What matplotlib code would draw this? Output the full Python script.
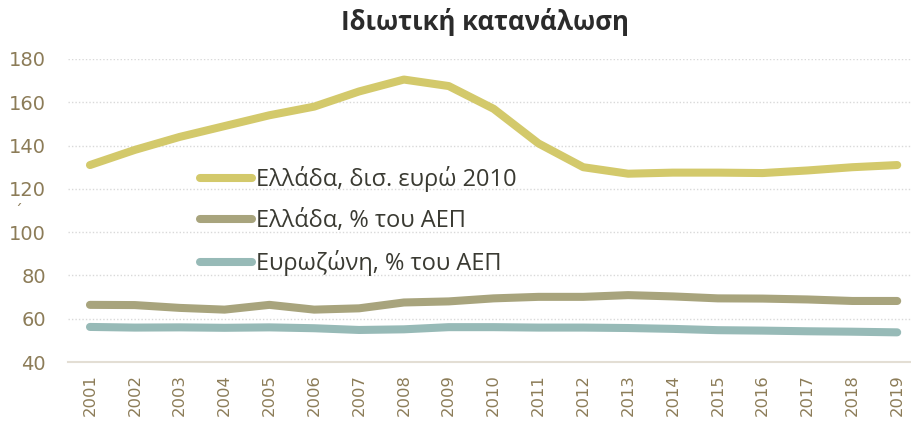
import matplotlib
matplotlib.use("Agg")
import matplotlib.pyplot as plt

years = [str(y) for y in range(2001, 2020)]
greece_bn = [131, 138, 144, 149, 154, 158, 165, 170.5, 167.5, 157, 141, 130, 127, 127.5, 127.5, 127.3, 128.5, 130, 131]
greece_gdp = [66.4, 66.3, 65.0, 64.2, 66.4, 64.2, 64.8, 67.5, 68.0, 69.4, 70.1, 70.1, 70.9, 70.3, 69.4, 69.3, 68.9, 68.2, 68.2]
ez_gdp = [56.2, 55.9, 56.0, 55.8, 56.0, 55.6, 54.8, 55.1, 56.1, 56.1, 55.9, 55.9, 55.7, 55.3, 54.7, 54.5, 54.2, 54.0, 53.7]
labels = ["Ελλάδα, δισ. ευρώ 2010", "Ελλάδα, % του ΑΕΠ", "Ευρωζώνη, % του ΑΕΠ"]
colors = ["#D3C96B", "#A8A47D", "#97BAB7"]
yticks = [40, 60, 80, 100, 120, 140, 160, 180]

plt.rcParams['font.family'] = ['DejaVu Sans']
fig = plt.figure(figsize=(9.12, 4.28), dpi=100)
ax = fig.add_axes([68/912, (428-362)/428, (912-68)/912, 303/428])

x = list(range(len(years)))
for vals, lab, col in zip([greece_bn, greece_gdp, ez_gdp], labels, colors):
    ax.plot(x, vals, color=col, lw=5.8, solid_capstyle='round', solid_joinstyle='round', label=lab, zorder=3)

ax.set_ylim(40, 180)
ax.set_xlim(-0.49, 18.33)
ax.set_yticks(yticks)
ax.set_xticks(x)
ax.set_xticklabels(years, rotation=90)
tick_color = "#8C7C58"
ax.tick_params(axis='y', length=0, labelsize=14, labelcolor=tick_color, pad=16)
ax.tick_params(axis='x', length=0, labelsize=11.8, labelcolor=tick_color, pad=9)
for s in ['top', 'right', 'left']:
    ax.spines[s].set_visible(False)
ax.spines['bottom'].set_color("#E3DED4")
ax.spines['bottom'].set_linewidth(1.5)
for v in yticks[1:]:
    ax.axhline(v, color="#D9D9D9", lw=1.0, ls=(0, (1, 1.5)), zorder=1)

fig.text(485/912, 1 - 22/428, "Ιδιωτική κατανάλωση", fontsize=18.5, fontweight='bold', color="#2B2B2B",
         family=['Open Sans', 'DejaVu Sans'], ha='center', va='center')

leg = ax.legend(loc='upper left', bbox_to_anchor=(179/912, (428-145)/428), bbox_transform=fig.transFigure,
                frameon=False, handlelength=2.2, handletextpad=0.15, labelspacing=0.72,
                prop={'family': ['Open Sans', 'DejaVu Sans'], 'size': 17})
for t in leg.get_texts():
    t.set_color("#3A3A32")

fig.text(18/912, 1 - 212/428, "´", color=tick_color, fontsize=11, ha='center', va='center')

fig.savefig("out.png", dpi=100)
